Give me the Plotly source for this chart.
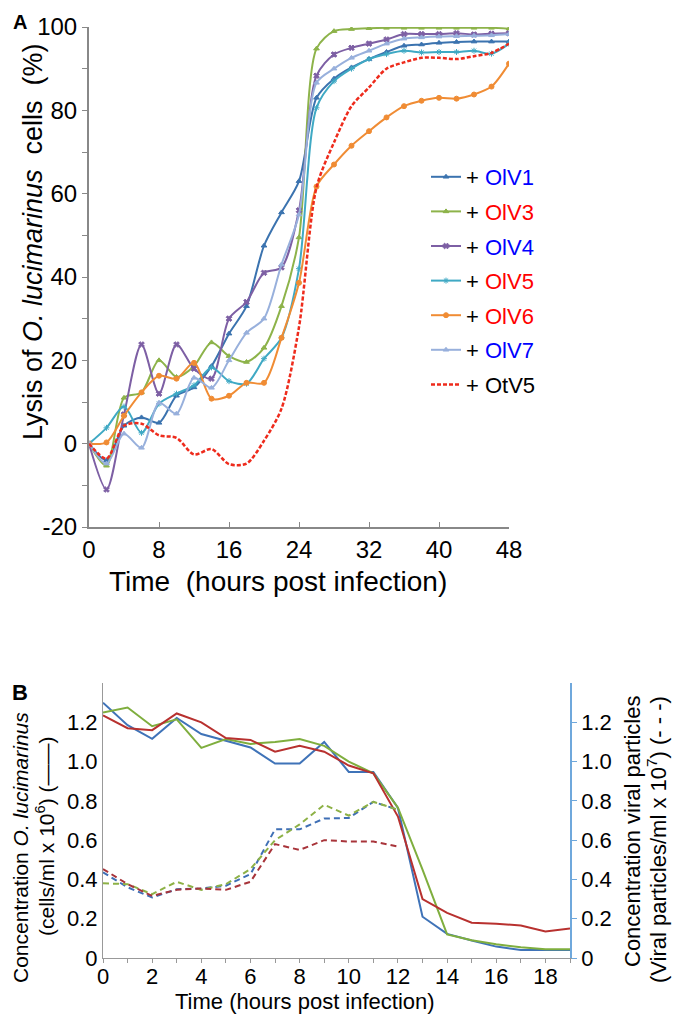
import plotly.graph_objects as go

# ---- Panel A: lysis (%) vs time, every 2 h ----
hours_a = [0, 2, 4, 6, 8, 10, 12, 14, 16, 18, 20, 22, 24, 26, 28, 30, 32, 34, 36, 38, 40, 42, 44, 46, 48]
olv1 = [0, -4, 4.3, 6.3, 5, 11.5, 13.5, 18.6, 26.4, 33, 47.5, 55.5, 63, 83, 87.6, 90.3, 92.3, 94, 95.5, 95.8, 96.2, 96.4, 96.5, 96.5, 96.5]
olv3 = [0, -5.3, 11, 12.3, 20, 16, 18.6, 24.3, 21, 19.6, 23, 33, 49.5, 94.8, 99, 99.5, 99.7, 99.8, 99.8, 99.8, 99.8, 99.8, 99.8, 99.8, 99.6]
olv4 = [0, -11, 7, 23.8, 12, 23.8, 18, 15.6, 30, 34, 41, 42.3, 56, 88.3, 93.4, 95, 96, 97, 98.3, 98.3, 98.3, 98.5, 98.2, 98.4, 98.5]
olv5 = [0, 3.8, 8.9, 2.6, 9.6, 12, 14, 18.3, 15, 14.4, 20.4, 25.4, 42, 80.6, 87, 90, 92.3, 93.5, 94.3, 93.9, 94, 94, 94.3, 93.6, 96]
olv6 = [0, 0.3, 6.7, 12.3, 16.3, 15.6, 19.4, 10.8, 11.5, 14.6, 14.6, 25.4, 38.6, 61.7, 67, 71.5, 75, 78.3, 81, 82.3, 83, 82.8, 83.8, 85.7, 91.2]
olv7 = [0, -4.8, 2.4, -1, 9.8, 7.2, 15.8, 13.4, 20, 26.6, 30, 43, 55, 86.6, 90, 92.6, 94.3, 96, 97.2, 97.5, 97.7, 97.8, 97.9, 98, 98.3]
otv5 = [0, -3.6, 4.3, 4.8, 2, 1.4, -2.6, -1.3, -4.9, -4.8, 0.7, 8.4, 28, 61.5, 72.3, 81, 85.5, 90, 91.5, 92.6, 92.6, 92.3, 93, 93.8, 96]

series_a = [
    ('OlV1', olv1, '#3b73af', 'triangle-up', 'blue'),
    ('OlV3', olv3, '#8db34a', 'triangle-up', 'red'),
    ('OlV4', olv4, '#7d5fa4', 'x', 'blue'),
    ('OlV5', olv5, '#3fa9c4', 'asterisk-open', 'red'),
    ('OlV6', olv6, '#f08c34', 'circle', 'red'),
    ('OlV7', olv7, '#98b0dc', 'triangle-up', 'blue'),
]

# ---- Panel B: concentrations vs time, hourly ----
hours_b = [0, 1, 2, 3, 4, 5, 6, 7, 8, 9, 10, 11, 12, 13, 14, 15, 16, 17, 18, 19]
cells_blue = [1.30, 1.185, 1.116, 1.222, 1.14, 1.106, 1.072, 0.99, 0.99, 1.10, 0.947, 0.947, 0.764, 0.21, 0.123, 0.089, 0.058, 0.041, 0.041, 0.041]
cells_red = [1.235, 1.17, 1.16, 1.245, 1.20, 1.12, 1.11, 1.05, 1.08, 1.05, 0.98, 0.94, 0.72, 0.30, 0.23, 0.18, 0.175, 0.165, 0.135, 0.15]
cells_green = [1.25, 1.275, 1.18, 1.215, 1.07, 1.115, 1.09, 1.10, 1.115, 1.08, 1.0, 0.94, 0.765, 0.45, 0.12, 0.09, 0.07, 0.055, 0.045, 0.045]
virus_hours = [0, 1, 2, 3, 4, 5, 6, 7, 8, 9, 10, 11, 12]
virus_blue = [0.436, 0.36, 0.308, 0.35, 0.354, 0.368, 0.427, 0.655, 0.655, 0.71, 0.713, 0.795, 0.755]
virus_green = [0.38, 0.376, 0.325, 0.388, 0.347, 0.376, 0.453, 0.60, 0.68, 0.78, 0.725, 0.795, 0.755]
virus_red = [0.453, 0.376, 0.316, 0.347, 0.354, 0.347, 0.388, 0.58, 0.55, 0.60, 0.593, 0.593, 0.567]

FONT = 'Liberation Sans, Arial, sans-serif'
# the page body adds an 8px margin, so the figure is a bit smaller than the window
OFF = 8
W, H = 680 - OFF, 1019 - OFF

def px(x):
    return (x - OFF) / W

def py(y):
    return 1 - (y - OFF) / H

fig = go.Figure()

for name, vals, col, sym, txtcol in series_a:
    fig.add_trace(go.Scatter(
        x=hours_a, y=vals, mode='lines+markers',
        name=f'+ <span style="color:{txtcol}">{name}</span>',
        line=dict(color=col, width=2, shape='spline', smoothing=0.8),
        marker=dict(color=col, symbol=sym, size=5, line=dict(color=col, width=1)),
        legendgroup=name, xaxis='x', yaxis='y'))

fig.add_trace(go.Scatter(
    x=hours_a, y=otv5, mode='lines', name='+ OtV5',
    line=dict(color='#ee2b1c', width=2.5, dash='4px,2px', shape='spline', smoothing=0.8),
    legendgroup='OtV5', xaxis='x', yaxis='y'))

for vals, col in [(cells_blue, '#3f73b8'), (cells_green, '#7fae3e'), (cells_red, '#b8312f')]:
    fig.add_trace(go.Scatter(x=hours_b, y=vals, mode='lines', showlegend=False,
                             line=dict(color=col, width=2), xaxis='x2', yaxis='y2'))
for vals, col in [(virus_blue, '#3f6fb5'), (virus_green, '#8db146'), (virus_red, '#a8343a')]:
    fig.add_trace(go.Scatter(x=virus_hours, y=vals, mode='lines', showlegend=False,
                             line=dict(color=col, width=2, dash='6px,4px'), xaxis='x2', yaxis='y3'))

font_a = dict(family=FONT, size=24, color='black')
font_b = dict(family=FONT, size=22, color='black')
b_vals = [0, 0.2, 0.4, 0.6, 0.8, 1.0, 1.2]
b_text = ['0', '0.2', '0.4', '0.6', '0.8', '1.0', '1.2']

fig.update_layout(
    width=W, height=H,
    paper_bgcolor='white', plot_bgcolor='white',
    margin=dict(l=0, r=0, t=0, b=0),
    font=dict(family=FONT, color='black'),
    xaxis=dict(domain=[px(89), px(509)], anchor='y', range=[0, 48], automargin=False,
               tickvals=[0, 8, 16, 24, 32, 40, 48], ticks='inside', ticklen=5,
               tickcolor='#888', showline=True, linecolor='#888', linewidth=2,
               showgrid=False, zeroline=False, tickfont=font_a),
    yaxis=dict(domain=[py(527), py(27)], anchor='x', range=[-20, 100], automargin=False,
               tickvals=[-20, 0, 20, 40, 60, 80, 100],
               ticktext=['-20', '0', '20', '40', '60', '80', '100'],
               ticks='outside', ticklen=5, tickcolor='#888',
               minor=dict(dtick=10, ticks='outside', ticklen=5, tickcolor='#888'),
               showline=True, linecolor='#888', linewidth=2, showgrid=False, zeroline=False,
               tickfont=font_a),
    xaxis2=dict(domain=[px(103), px(570)], anchor='y2', range=[0, 19], automargin=False,
                tickvals=[0, 2, 4, 6, 8, 10, 12, 14, 16, 18], ticks='outside', ticklen=4,
                tickcolor='#999', minor=dict(dtick=1, ticks='outside', ticklen=4, tickcolor='#999'),
                showline=True, linecolor='#999', linewidth=1, showgrid=False, zeroline=False,
                tickfont=font_b, ticklabelstandoff=-5),
    yaxis2=dict(domain=[py(958), py(683)], anchor='x2', range=[0, 1.4], automargin=False,
                tickvals=b_vals, ticktext=b_text, ticks='',
                showline=True, linecolor='#999', linewidth=1, showgrid=False, zeroline=False,
                tickfont=font_b),
    yaxis3=dict(overlaying='y2', side='right', anchor='x2', range=[0, 1.4], automargin=False,
                tickvals=b_vals, ticktext=b_text, ticks='outside', ticklen=5, tickcolor='#6fa8dc',
                showline=True, linecolor='#6fa8dc', linewidth=1.5, showgrid=False, zeroline=False,
                tickfont=font_b),
    legend=dict(x=px(426), y=py(156), xanchor='left', yanchor='top',
                font=dict(family=FONT, size=22, color='black'), bgcolor='rgba(0,0,0,0)',
                tracegroupgap=3, itemwidth=30),
)

# panel letters and axis titles
texts = [
    ('<b>A</b>', 20, 22, 0, 20),
    ('<b>B</b>', 20, 692, 0, 22),
    ('Lysis of <i>O. lucimarinus</i>  cells  (%)', 33, 242, -90, 27),
    ('Time  (hours post infection)', 278, 581, 0, 28),
    ('Time (hours post infection)', 305, 1001, 0, 22),
    ('Concentration <i>O. lucimarinus</i>', 20, 848, -90, 21),
    ('(cells/ml x 10<sup>6</sup>) (\u2014\u2014)', 45, 836, -90, 21),
    ('Concentration viral particles', 632, 832, -90, 22),
    ('(Viral particles/ml x 10<sup>7</sup>) (- - -)', 657, 840, -90, 22),
]
for txt, x, y, ang, size in texts:
    fig.add_annotation(text=txt, x=px(x), y=py(y), xref='paper', yref='paper',
                       xanchor='center', yanchor='middle', textangle=ang, showarrow=False,
                       font=dict(family=FONT, size=size, color='black'))

fig.write_html('out.html')
